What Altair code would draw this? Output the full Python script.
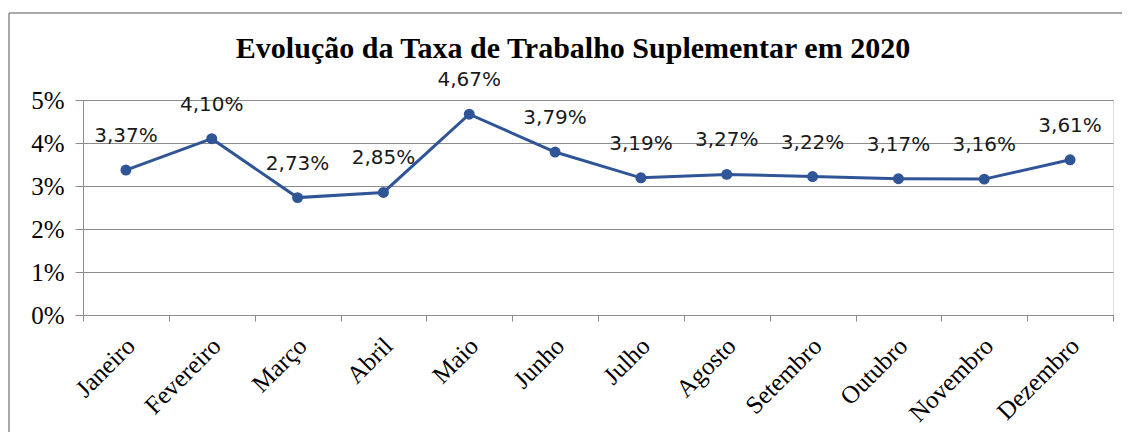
import altair as alt
import pandas as pd

months = ["Janeiro", "Fevereiro", "Março", "Abril", "Maio", "Junho", "Julho",
          "Agosto", "Setembro", "Outubro", "Novembro", "Dezembro"]
rates = [3.37, 4.10, 2.73, 2.85, 4.67, 3.79, 3.19, 3.27, 3.22, 3.17, 3.16, 3.61]
y_ticks = [0, 0.01, 0.02, 0.03, 0.04, 0.05]
title_text = "Evolução da Taxa de Trabalho Suplementar em 2020"

df = pd.DataFrame({
    "mes": months,
    "taxa": [r / 100 for r in rates],
    "rotulo": [f"{r:.2f}%".replace(".", ",") for r in rates],
})

W, H = 1030, 215
GRAY = "#8c8c8c"
BLUE = "#2F5597"

x = alt.X("mes:N", sort=months, title=None,
          scale=alt.Scale(type="band", paddingInner=0, paddingOuter=0),
          axis=alt.Axis(labelAngle=-45, labelFont="Liberation Serif", labelFontSize=25,
                        labelColor="#000000", tickBand="extent", tickSize=6,
                        tickColor=GRAY, domainColor=GRAY, grid=False, labelPadding=12,
                        labelOffset=-4, labelAlign="right", labelBaseline="top"))
y = alt.Y("taxa:Q", title=None,
          scale=alt.Scale(domain=[0, 0.05], nice=False),
          axis=alt.Axis(values=y_ticks, format=".0%", labelFont="Liberation Serif",
                        labelFontSize=25, labelColor="#000000", tickSize=8,
                        tickColor=GRAY, domainColor=GRAY, gridColor=GRAY,
                        gridWidth=1, labelPadding=11))

base = alt.Chart(df)
one = alt.Chart(pd.DataFrame({"k": [0]}))

frame_top = one.mark_rule(color=GRAY, strokeWidth=1.5).encode(
    x=alt.value(-74), x2=alt.value(1100), y=alt.value(-87))
frame_left = one.mark_rule(color=GRAY, strokeWidth=1.5).encode(
    x=alt.value(-74), y=alt.value(-87), y2=alt.value(400))

line = base.mark_line(color=BLUE, strokeWidth=3).encode(x=x, y=y)
pts = base.mark_point(filled=True, color=BLUE, size=120, opacity=1).encode(x=x, y=y)
labels = base.mark_text(dy=-34, baseline="middle", align="center",
                        font="DejaVu Sans", fontSize=20, color="#1a1a1a").encode(
    x=x, y=y, text="rotulo:N")

chart = alt.layer(frame_top, frame_left, line, pts, labels).properties(
    width=W, height=H,
    title=alt.TitleParams(title_text, font="Liberation Serif", fontSize=30,
                          fontWeight="bold", color="#000000", anchor="middle",
                          frame="group", baseline="alphabetic", offset=-76, dx=-25),
    autosize=alt.AutoSizeParams(type="none"),
    padding={"left": 75, "top": 92, "right": 9, "bottom": 117},
).configure_view(stroke=None).configure(background="white")

chart.save("out.html", embed_options={"renderer": "svg", "actions": False})
